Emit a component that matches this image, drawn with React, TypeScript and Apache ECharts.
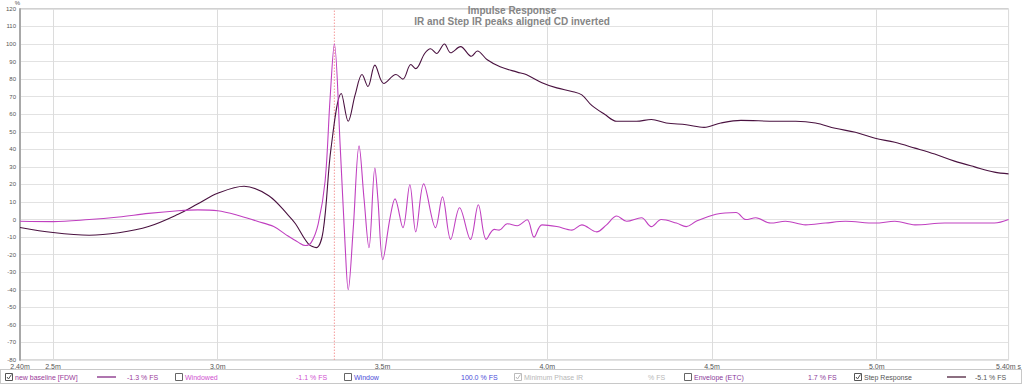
import React, { useEffect, useRef } from "react";
import * as echarts from "echarts";

const xTickValues = [2.4, 2.5, 3.0, 3.5, 4.0, 4.5, 5.0, 5.4];
const xTickLabels = ["2.40m", "2.5m", "3.0m", "3.5m", "4.0m", "4.5m", "5.0m", "5.40m s"];

const irTimes = [2.40, 2.50, 2.61, 2.70, 2.79, 2.88, 2.94, 3.00, 3.06, 3.12, 3.17, 3.21, 3.245, 3.266, 3.284, 3.305, 3.326, 3.341, 3.354, 3.372, 3.387, 3.396, 3.411, 3.429, 3.444, 3.459, 3.477, 3.486, 3.501, 3.523, 3.538, 3.562, 3.583, 3.601, 3.625, 3.661, 3.682, 3.707, 3.734, 3.767, 3.791, 3.815, 3.839, 3.854, 3.879, 3.909, 3.939, 3.960, 3.984, 4.029, 4.075, 4.105, 4.150, 4.180, 4.211, 4.241, 4.286, 4.316, 4.346, 4.392, 4.422, 4.452, 4.512, 4.573, 4.603, 4.633, 4.678, 4.723, 4.784, 4.844, 4.905, 4.995, 5.055, 5.116, 5.206, 5.297, 5.357, 5.40];
const irValues = [-1, -1.2, 0, 1.5, 3.5, 5, 5.5, 5, 2.5, -1, -4, -9, -13, -14.8, -13, -2.4, 22, 69, 100, 40.7, -16, -40, -6, 42, 12, -16, 29.4, 12, -22.8, 1, 11.8, -4.6, 19.8, -7, 20.3, -4.6, 12.9, -11.3, 6.7, -11.3, 8.4, -11.3, -5.6, -6, -2.4, -3.5, -0.1, -10, -3, -4, -6, -3, -7, -3, 2, -1, 1, -4, 0, -2, -4, -1, 3, 4, 0, 1, -2, -1, -3, -2, -1, -2, -1, -3, -2, -2, -2, 0];

const stepTimes = [2.40, 2.50, 2.61, 2.70, 2.79, 2.88, 2.94, 3.00, 3.08, 3.155, 3.215, 3.236, 3.275, 3.299, 3.32, 3.344, 3.375, 3.396, 3.417, 3.438, 3.456, 3.477, 3.504, 3.541, 3.562, 3.586, 3.601, 3.628, 3.646, 3.664, 3.688, 3.707, 3.737, 3.77, 3.788, 3.818, 3.857, 3.909, 3.936, 3.984, 4.029, 4.075, 4.105, 4.135, 4.174, 4.211, 4.271, 4.316, 4.361, 4.422, 4.476, 4.527, 4.588, 4.693, 4.754, 4.814, 4.874, 4.935, 4.995, 5.055, 5.116, 5.176, 5.236, 5.297, 5.357, 5.40];
const stepValues = [-4.5, -7.4, -8.9, -7.5, -4, 3, 9, 15, 19, 13.6, 2.3, -2.4, -13.8, -16, -6.5, 40.8, 71.8, 56, 71, 82.6, 75.8, 88, 77.5, 82.6, 80, 88.3, 86, 94.6, 97.3, 94.6, 100, 95, 98.5, 93, 96, 91, 87, 84, 82.6, 78, 75, 73, 71, 65, 60, 56, 56, 57, 55, 54, 52.5, 55, 56.5, 56, 56, 55, 52, 49.7, 46.3, 44, 40.7, 37.3, 33.3, 30, 27, 26];

const peakTime = 3.354;
const yMin = -80;
const yMax = 120;

const titleText = "Impulse Response";
const subtitleText = "IR and Step IR peaks aligned CD inverted";

const legendItems = [
  { x: 5, checked: true, label: "new baseline [FDW]", color: "#9a3a9a", line: "#7a1a7a", lineX: 97, value: "-1.3 % FS", valueX: 127, checkColor: "#555" },
  { x: 175, checked: false, label: "Windowed", color: "#d050d0", line: null, lineX: 0, value: "-1.1 % FS", valueX: 296, checkColor: "#555" },
  { x: 344, checked: false, label: "Window", color: "#4a4ad8", line: null, lineX: 0, value: "100.0 % FS", valueX: 461, checkColor: "#555" },
  { x: 514, checked: true, label: "Minimum Phase IR", color: "#b8b8b8", line: null, lineX: 0, value: "% FS", valueX: 648, checkColor: "#bbb" },
  { x: 684, checked: false, label: "Envelope (ETC)", color: "#8a3a9a", line: null, lineX: 0, value: "1.7 % FS", valueX: 808, checkColor: "#555" },
  { x: 854, checked: true, label: "Step Response", color: "#555555", line: "#40102e", lineX: 947, value: "-5.1 % FS", valueX: 975, checkColor: "#555" },
];

const FONT = "Liberation Sans, Arial, sans-serif";

export default function App() {
  const ref = useRef<HTMLDivElement>(null);
  useEffect(() => {
    document.body.style.margin = "0";
    if (!ref.current) return;
    const chart = echarts.init(ref.current, null, { renderer: "svg" });

    const legendGraphics: any[] = [
      { type: "line", shape: { x1: 0, y1: 369.5, x2: 1022, y2: 369.5 }, style: { stroke: "#c8c8c8", lineWidth: 1 } },
      { type: "line", shape: { x1: 0, y1: 383.5, x2: 1022, y2: 383.5 }, style: { stroke: "#c8c8c8", lineWidth: 1 } },
      { type: "line", shape: { x1: 0.5, y1: 369.5, x2: 0.5, y2: 383.5 }, style: { stroke: "#c8c8c8", lineWidth: 1 } },
      { type: "line", shape: { x1: 1021.5, y1: 369.5, x2: 1021.5, y2: 383.5 }, style: { stroke: "#c8c8c8", lineWidth: 1 } },
    ];
    legendItems.forEach((it) => {
      legendGraphics.push({ type: "rect", shape: { x: it.x + 0.5, y: 373.5, width: 7, height: 7 }, style: { fill: "#fff", stroke: it.checked ? it.checkColor : "#666", lineWidth: 1 } });
      if (it.checked) {
        legendGraphics.push({ type: "polyline", shape: { points: [[it.x + 2, 377], [it.x + 3.5, 379], [it.x + 6.5, 374.5]] }, style: { stroke: it.checkColor, lineWidth: 1, fill: null } });
      }
      legendGraphics.push({ type: "text", x: it.x + 10, y: 377, style: { text: it.label, fill: it.color, font: `7px ${FONT}`, verticalAlign: "middle" } });
      if (it.line) {
        legendGraphics.push({ type: "line", shape: { x1: it.lineX, y1: 377, x2: it.lineX + 19, y2: 377 }, style: { stroke: it.line, lineWidth: 1.2 } });
      }
      legendGraphics.push({ type: "text", x: it.valueX, y: 377, style: { text: it.value, fill: it.color, font: `7px ${FONT}`, verticalAlign: "middle" } });
    });

    chart.setOption({
      animation: false,
      backgroundColor: "#ffffff",
      title: {
        text: titleText,
        subtext: subtitleText,
        left: "center",
        top: 5,
        itemGap: 1,
        padding: 0,
        textStyle: { fontSize: 10, fontWeight: "bold", color: "#858585", fontFamily: FONT },
        subtextStyle: { fontSize: 10, fontWeight: "bold", color: "#858585", fontFamily: FONT },
      },
      grid: { left: 20, right: 10, top: 7, bottom: 24, show: true, borderColor: "#b4b4b4", borderWidth: 1, backgroundColor: "#fff" },
      xAxis: {
        type: "value",
        min: 2.4,
        max: 5.4,
        axisLine: { show: false },
        axisTick: { show: false, customValues: xTickValues },
        axisLabel: {
          customValues: xTickValues,
          fontSize: 7,
          color: "#555",
          fontFamily: FONT,
          margin: 3,
          formatter: (v: number) => {
            const i = xTickValues.findIndex((t) => Math.abs(t - v) < 1e-6);
            return i >= 0 ? xTickLabels[i] : "";
          },
        },
        splitLine: { show: true, lineStyle: { color: "#dcdcdc", width: 1 } },
      },
      yAxis: {
        type: "value",
        min: yMin,
        max: yMax,
        interval: 10,
        name: "%",
        nameLocation: "end",
        nameGap: 0,
        nameTextStyle: { fontSize: 6, color: "#555", fontFamily: FONT, align: "right", padding: [0, 0, 0, 0] },
        axisLine: { show: true, lineStyle: { color: "#a8a8a8", width: 2 } },
        axisTick: { show: false },
        axisLabel: { fontSize: 6, color: "#555", fontFamily: FONT, margin: 4 },
        splitLine: { show: true, lineStyle: { color: "#e2e2e2", width: 1 } },
      },
      series: [
        {
          name: "Peak marker",
          type: "line",
          showSymbol: false,
          silent: true,
          data: [[peakTime, yMin], [peakTime, yMax]],
          lineStyle: { color: "#f59a9a", width: 1, type: [1.5, 1.5] },
          itemStyle: { color: "#f59a9a" },
          z: 2,
        },
        {
          name: "Step Response",
          type: "line",
          showSymbol: false,
          smooth: 0.35,
          data: stepTimes.map((t, i) => [t, stepValues[i]]),
          lineStyle: { color: "#4a1240", width: 1.1 },
          itemStyle: { color: "#4a1240" },
          z: 3,
        },
        {
          name: "new baseline [FDW]",
          type: "line",
          showSymbol: false,
          smooth: 0.35,
          data: irTimes.map((t, i) => [t, irValues[i]]),
          lineStyle: { color: "#c040c0", width: 1.1 },
          itemStyle: { color: "#c040c0" },
          z: 4,
        },
      ],
      graphic: legendGraphics,
    });
    return () => chart.dispose();
  }, []);
  return <div ref={ref} style={{ width: 1024, height: 384 }} />;
}
